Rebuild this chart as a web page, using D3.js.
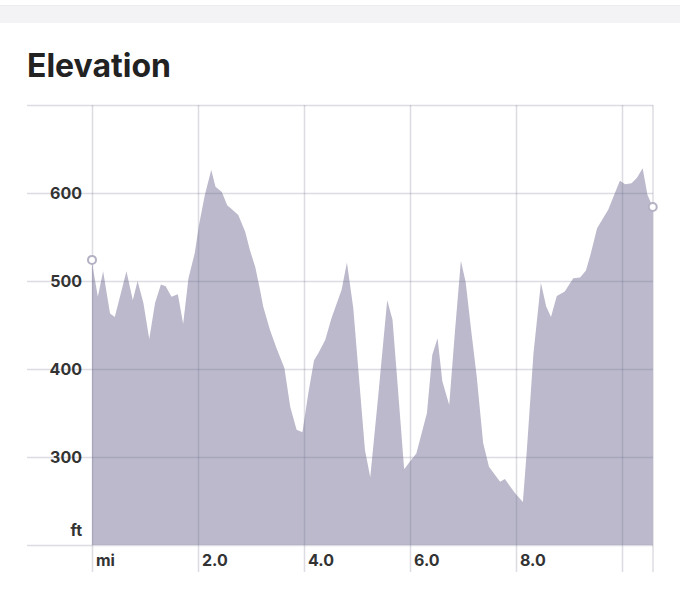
<!DOCTYPE html>
<html>
<head>
<meta charset="utf-8">
<script src="https://cdn.jsdelivr.net/npm/d3@7"></script>
<style>
  html, body { margin: 0; padding: 0; background: #fff; }
  svg { display: block; }
  text { font-family: Inter, "Noto Sans", sans-serif; }
</style>
</head>
<body>
<svg id="chart" width="680" height="608"></svg>
<script>
// Distance along trail (miles)
const miles = [0.00, 0.02, 0.11, 0.21, 0.34, 0.43, 0.65, 0.77, 0.86, 0.97,
  1.08, 1.19, 1.30, 1.39, 1.50, 1.62, 1.72, 1.82, 1.94, 2.02,
  2.13, 2.25, 2.33, 2.45, 2.55, 2.65, 2.76, 2.89, 2.98, 3.08,
  3.17, 3.23, 3.36, 3.48, 3.63, 3.74, 3.86, 3.97, 4.08, 4.19,
  4.27, 4.40, 4.52, 4.71, 4.81, 4.93, 5.02, 5.15, 5.25, 5.40,
  5.57, 5.67, 5.75, 5.89, 6.00, 6.12, 6.32, 6.42, 6.52, 6.61,
  6.74, 6.85, 6.96, 7.05, 7.16, 7.26, 7.38, 7.49, 7.70, 7.79,
  7.98, 8.13, 8.20, 8.33, 8.47, 8.57, 8.66, 8.77, 8.92, 9.08,
  9.21, 9.32, 9.41, 9.53, 9.64, 9.74, 9.84, 9.96, 10.06, 10.18,
  10.28, 10.39, 10.48, 10.58];
// Elevation (ft)
const elevation = [524, 514, 482, 511, 463, 459, 511, 478, 500, 475,
  434, 475, 496, 494, 482, 485, 451, 503, 532, 564,
  598, 626, 607, 601, 586, 581, 575, 556, 535, 516,
  490, 471, 444, 424, 401, 357, 331, 328, 372, 410,
  418, 433, 458, 490, 521, 469, 403, 308, 277, 369,
  478, 456, 395, 286, 295, 304, 350, 416, 435, 386,
  359, 444, 523, 499, 441, 391, 316, 289, 272, 275,
  259, 249, 304, 418, 498, 471, 459, 483, 488, 503,
  504, 512, 531, 560, 571, 581, 596, 614, 610, 611,
  617, 628, 598, 584];

const yTicks = [300, 400, 500, 600];
const yTickLabels = ["300", "400", "500", "600"];
const xTicks = [2, 4, 6, 8];
const xTickLabels = ["2.0", "4.0", "6.0", "8.0"];
const xGrid = [0, 2, 4, 6, 8, 10];
const yGrid = [200, 300, 400, 500, 600, 700];

const data = miles.map((m, i) => ({ m, e: elevation[i] }));

const svg = d3.select("#chart");

const xMax = 10.585;
const x = d3.scaleLinear().domain([0, xMax]).range([92, 653]);
const y = d3.scaleLinear().domain([200, 700]).range([545, 105]);
const leftEdge = 27;

// top header band
svg.append("rect").attr("x", 0).attr("y", 5).attr("width", 680).attr("height", 18)
  .attr("fill", "#f3f3f6");
svg.append("line").attr("x1", 0).attr("x2", 680).attr("y1", 5.5).attr("y2", 5.5)
  .attr("stroke", "#ececf0");

// title
svg.append("text").attr("x", 27).attr("y", 77)
  .attr("font-size", 32).attr("font-weight", 700).attr("fill", "#222")
  .text("Elevation");

// area
const area = d3.area()
  .x(d => x(d.m))
  .y0(y(200))
  .y1(d => y(d.e));

svg.append("path").datum(data)
  .attr("d", area)
  .attr("fill", "#bbb9cb");

const gridColor = "rgba(110,108,135,0.24)";

// horizontal grid lines
svg.append("g").selectAll("line").data(yGrid).join("line")
  .attr("x1", leftEdge).attr("x2", x(xMax))
  .attr("y1", d => Math.round(y(d)) + 0.5).attr("y2", d => Math.round(y(d)) + 0.5)
  .attr("stroke", gridColor).attr("stroke-width", 1.5);

// vertical grid lines
svg.append("g").selectAll("line").data(xGrid).join("line")
  .attr("x1", d => Math.round(x(d)) + 0.5).attr("x2", d => Math.round(x(d)) + 0.5)
  .attr("y1", y(700)).attr("y2", 572)
  .attr("stroke", gridColor).attr("stroke-width", 1.5);

// right border
svg.append("line")
  .attr("x1", x(xMax)).attr("x2", x(xMax))
  .attr("y1", y(700)).attr("y2", 572)
  .attr("stroke", gridColor).attr("stroke-width", 1.5);

// y labels
svg.append("g").selectAll("text").data(yTicks).join("text")
  .attr("x", 82).attr("y", d => y(d))
  .attr("dy", "0.36em")
  .attr("text-anchor", "end")
  .attr("font-size", 16).attr("font-weight", 700).attr("fill", "#333")
  .text((d, i) => yTickLabels[i]);

svg.append("text").attr("x", 82).attr("y", 536)
  .attr("text-anchor", "end")
  .attr("font-size", 16).attr("font-weight", 700).attr("fill", "#333")
  .text("ft");

// x labels
svg.append("g").selectAll("text").data(xTicks).join("text")
  .attr("x", d => x(d) + 4).attr("y", 566)
  .attr("font-size", 16).attr("font-weight", 700).attr("fill", "#333")
  .text((d, i) => xTickLabels[i]);

svg.append("text").attr("x", x(0) + 4).attr("y", 566)
  .attr("font-size", 16).attr("font-weight", 700).attr("fill", "#333")
  .text("mi");

// endpoint markers
const ends = [data[0], data[data.length - 1]];
svg.append("g").selectAll("circle").data(ends).join("circle")
  .attr("cx", d => x(d.m)).attr("cy", d => y(d.e))
  .attr("r", 4)
  .attr("fill", "#fff")
  .attr("stroke", "#b3b1c3")
  .attr("stroke-width", 2);
</script>
</body>
</html>
